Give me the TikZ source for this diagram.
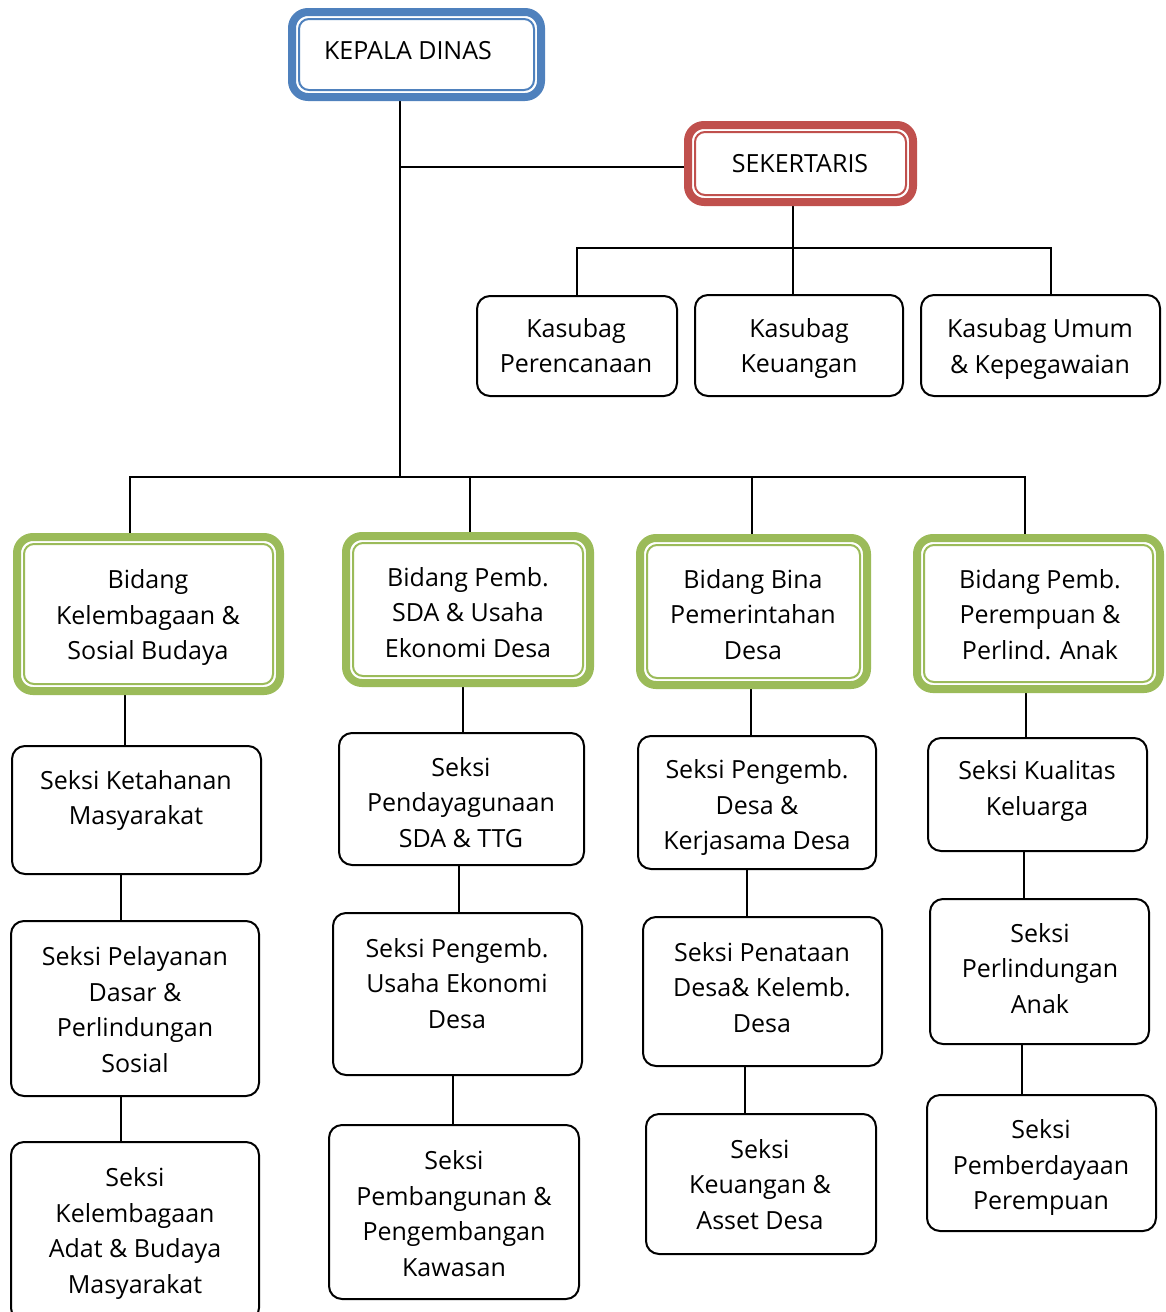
\documentclass[tikz,border=0pt]{standalone}
\usepackage{fontspec}
\setmainfont{Open Sans}
\usetikzlibrary{backgrounds}
\definecolor{kblue}{HTML}{4F81BD}
\definecolor{kred}{HTML}{C0504D}
\definecolor{kgreen}{HTML}{9BBB59}
\tikzset{
  outerbox/.style={draw=#1, line width=8pt, fill=white, rounded corners=16pt, inner sep=0pt, outer sep=0pt},
  innerbox/.style={draw=#1, line width=2pt, rounded corners=10pt, inner sep=0pt, outer sep=0pt},
  plainbox/.style={draw=black, line width=2pt, fill=white, rounded corners=13pt, inner sep=0pt, outer sep=0pt},
  txt/.style={align=center, font=\fontsize{25}{35.5}\selectfont, inner sep=0pt, text=black},
  conn/.style={draw=black, line width=1.5pt}
}
\newcommand\dblbox[6]{% name, color, cx, cy, W, H
  \node[outerbox=#2, minimum width=#5pt-8pt, minimum height=#6pt-8pt] (#1) at (#3,#4) {};
  \node[innerbox=#2, minimum width=#5pt-22pt, minimum height=#6pt-22pt] at (#1.center) {};
}
\newcommand\pbox[5]{% name, cx, cy, W, H
  \node[plainbox, minimum width=#4pt-2pt, minimum height=#5pt-2pt] (#1) at (#2,#3) {};
}
\begin{document}
\begin{tikzpicture}[x=1pt,y=-1pt]
\useasboundingbox (0,0) rectangle (1165,1312);
% top
\dblbox{kd}{kblue}{416.5}{54.5}{257}{93}
\node[txt] (kdt) at (408,51) {KEPALA DINAS};
\dblbox{sek}{kred}{800.5}{163.5}{233}{85}
\node[txt] (sekt) at (800,164) {SEKERTARIS};
% kasubag
\pbox{k1}{577}{346}{202}{102}
\node[txt] (k1t) at (576,345.5) {Kasubag\\Perencanaan};
\pbox{k2}{799}{345.5}{210}{103}
\node[txt] (k2t) at (799,348.5) {Kasubag\\Keuangan};
\pbox{k3}{1040.5}{345.5}{241}{103}
\node[txt] (k3t) at (1040,349) {Kasubag Umum\\\& Kepegawaian};
% bidang
\dblbox{b1}{kgreen}{148.5}{614}{271}{162}
\node[txt] (b1t) at (148,617.5) {Bidang\\Kelembagaan \&\\Sosial Budaya};
\dblbox{b2}{kgreen}{468}{609.5}{252}{155}
\node[txt] (b2t) at (468,612.5) {Bidang Pemb.\\SDA \& Usaha\\Ekonomi Desa};
\dblbox{b3}{kgreen}{753.5}{611.5}{235}{155}
\node[txt] (b3t) at (753,614.5) {Bidang Bina\\Pemerintahan\\Desa};
\dblbox{b4}{kgreen}{1038.5}{613.5}{251}{159}
\node[txt] (b4t) at (1040,614.5) {Bidang Pemb.\\Perempuan \&\\Perlind. Anak};
% column 1
\pbox{s11}{136.5}{810}{251}{130}
\node[txt] (s11t) at (136,800.5) {Seksi Ketahanan\\Masyarakat};
\pbox{s12}{135}{1008.5}{250}{177}
\node[txt] (s12t) at (135,1009.5) {Seksi Pelayanan\\Dasar \&\\Perlindungan\\Sosial};
\pbox{s13}{135}{1231.5}{250}{181}
\node[txt] (s13t) at (135,1233.5) {Seksi\\Kelembagaan\\Adat \& Budaya\\Masyarakat};
% column 2
\pbox{s21}{461.5}{799}{247}{134}
\node[txt] (s21t) at (461,802.5) {Seksi\\Pendayagunaan\\SDA \& TTG};
\pbox{s22}{457.5}{994}{251}{164}
\node[txt] (s22t) at (457,983.5) {Seksi Pengemb.\\Usaha Ekonomi\\Desa};
\pbox{s23}{454}{1212}{252}{176}
\node[txt] (s23t) at (454,1213.5) {Seksi\\Pembangunan \&\\Pengembangan\\Kawasan};
% column 3
\pbox{s31}{757}{802.5}{240}{135}
\node[txt] (s31t) at (757,807.5) {Seksi Pengemb.\\Desa \&\\Kerjasama Desa};
\pbox{s32}{762.5}{991.5}{241}{151}
\node[txt] (s32t) at (762,987.5) {Seksi Penataan\\Desa\& Kelemb.\\Desa};
\pbox{s33}{761}{1184}{232}{142}
\node[txt] (s33t) at (760,1184.5) {Seksi\\Keuangan \&\\Asset Desa};
% column 4
\pbox{s41}{1037.5}{794.5}{221}{115}
\node[txt] (s41t) at (1037,791) {Seksi Kualitas\\Keluarga};
\pbox{s42}{1039.5}{971.5}{221}{147}
\node[txt] (s42t) at (1040,968.5) {Seksi\\Perlindungan\\Anak};
\pbox{s43}{1041.5}{1163}{231}{138}
\node[txt] (s43t) at (1041,1167.5) {Seksi\\Pemberdayaan\\Perempuan};
% connectors
\coordinate (busA) at (400,477);
\coordinate (tapS) at (400,167);
\coordinate (busK) at (793,248);
\begin{pgfonlayer}{background}
\draw[conn] (kd.south -| busA) -- (busA);
\draw[conn] (tapS) -- (sek.west |- tapS);
\draw[conn] (sek.south -| busK) -- (busK);
\draw[conn] (k1.north -| 577,0) -- (577,248) -- (1051,248) -- (k3.north -| 1051,0);
\draw[conn] (k2.north -| busK) -- (busK);
\draw[conn] (b1.north -| 130,0) -- (130,477) -- (1025,477) -- (b4.north -| 1025,0);
\draw[conn] (b2.north -| 470,0) -- (470,477);
\draw[conn] (b3.north -| 752,0) -- (752,477);
\draw[conn] (b1.south -| 125,0) -- (s11.north -| 125,0);
\draw[conn] (s11.south -| 121,0) -- (s12.north -| 121,0);
\draw[conn] (s12.south -| 121,0) -- (s13.north -| 121,0);
\draw[conn] (b2.south -| 463,0) -- (s21.north -| 463,0);
\draw[conn] (s21.south -| 459,0) -- (s22.north -| 459,0);
\draw[conn] (s22.south -| 453,0) -- (s23.north -| 453,0);
\draw[conn] (b3.south -| 751,0) -- (s31.north -| 751,0);
\draw[conn] (s31.south -| 747,0) -- (s32.north -| 747,0);
\draw[conn] (s32.south -| 745,0) -- (s33.north -| 745,0);
\draw[conn] (b4.south -| 1026,0) -- (s41.north -| 1026,0);
\draw[conn] (s41.south -| 1024,0) -- (s42.north -| 1024,0);
\draw[conn] (s42.south -| 1022,0) -- (s43.north -| 1022,0);
\end{pgfonlayer}
\end{tikzpicture}
\end{document}
